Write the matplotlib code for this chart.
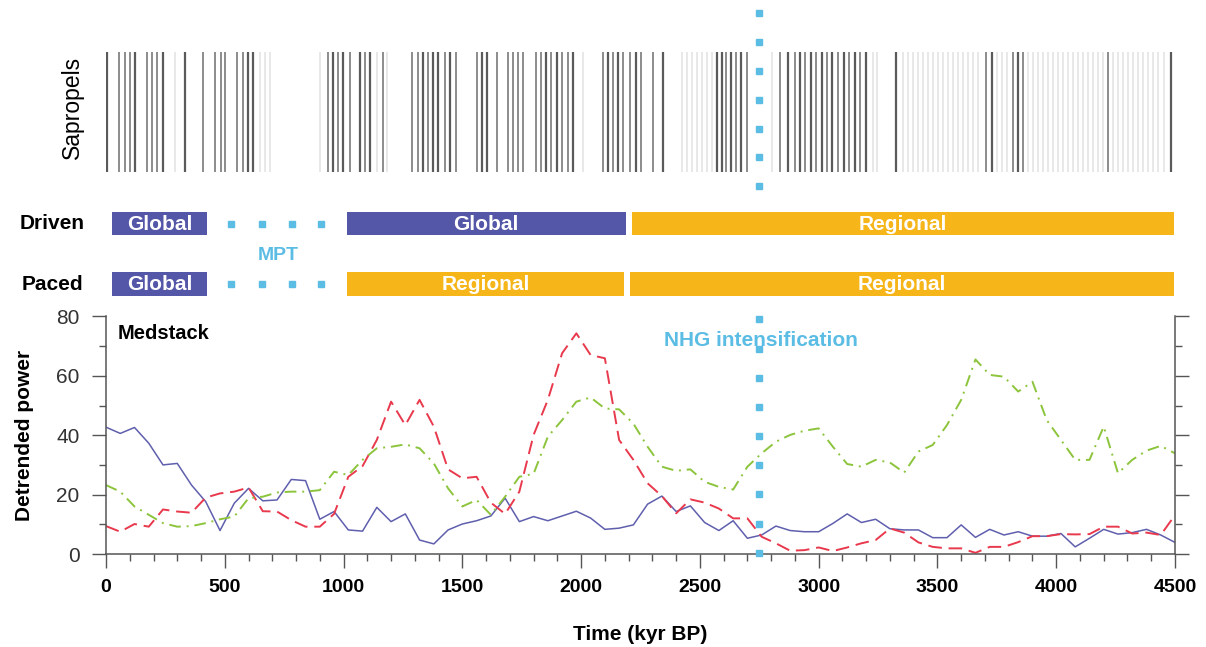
import numpy as np
import matplotlib
matplotlib.use("Agg")
import matplotlib.pyplot as plt
from matplotlib.ticker import MultipleLocator

plt.rcParams["font.family"] = ["Liberation Sans", "DejaVu Sans"]

# ---------------- data ----------------
AGE = np.arange(0, 4501, 60)  # kyr BP, 60 kyr grid

BLUE = [42.7, 40.6, 42.6, 37.3, 30.0, 30.5, 23.2, 17.6, 7.9, 17.1,
        22.1, 17.9, 18.2, 25.1, 24.7, 11.7, 14.3, 8.1, 7.7, 15.7,
        10.9, 13.5, 4.7, 3.4, 8.1, 10.1, 11.2, 12.8, 18.8, 10.9,
        12.6, 11.2, 12.8, 14.4, 12.1, 8.3, 8.7, 9.8, 16.8, 19.5,
        14.3, 16.2, 10.6, 7.9, 11.2, 5.3, 6.4, 9.4, 7.9, 7.5,
        7.5, 10.3, 13.5, 10.6, 11.7, 8.5, 8.1, 8.1, 5.5, 5.5,
        9.8, 5.6, 8.3, 6.4, 7.5, 6.0, 6.0, 6.9, 2.4, 5.3,
        8.3, 6.7, 7.2, 8.3, 6.4, 3.9]

RED = [9.4, 7.5, 10.1, 9.2, 15.0, 14.3, 13.9, 19.0, 20.4, 21.0,
       22.4, 14.4, 14.3, 11.4, 9.2, 9.2, 13.5, 26.0, 29.6, 38.4,
       51.3, 43.4, 51.9, 42.9, 28.5, 25.5, 26.0, 17.3, 13.5, 21.0,
       40.1, 51.9, 67.6, 74.3, 67.0, 65.9, 38.4, 31.7, 23.8, 19.5,
       13.7, 18.4, 17.3, 15.3, 12.0, 12.0, 5.8, 3.6, 1.1, 1.3,
       2.2, 1.0, 2.2, 3.6, 4.7, 8.6, 7.2, 3.9, 2.4, 1.9,
       1.9, 0.4, 2.4, 2.4, 4.0, 6.0, 6.0, 6.7, 6.6, 6.7,
       9.2, 9.2, 6.9, 7.2, 6.4, 13.1]

GREEN = [23.2, 21.0, 16.0, 13.2, 10.4, 9.2, 9.4, 10.4, 11.7, 12.6,
         18.8, 19.3, 20.7, 21.0, 21.0, 21.5, 27.7, 26.6, 31.7, 35.6,
         36.1, 36.9, 35.6, 30.5, 22.1, 16.0, 18.2, 13.2, 19.3, 26.0,
         27.0, 39.5, 45.1, 51.3, 52.7, 49.0, 48.7, 43.9, 36.1, 29.4,
         28.0, 28.5, 24.3, 22.6, 21.7, 29.4, 33.9, 37.8, 40.1, 41.5,
         42.3, 36.1, 30.3, 29.4, 31.7, 30.8, 27.4, 34.5, 36.7, 43.4,
         51.9, 65.5, 60.3, 59.7, 54.7, 58.0, 45.1, 38.4, 31.7, 31.7,
         42.9, 27.2, 31.7, 34.8, 36.4, 33.9]

XTICKS = [0, 500, 1000, 1500, 2000, 2500, 3000, 3500, 4000, 4500]
YTICKS = [0, 20, 40, 60, 80]

# sapropel ages (kyr), by shade of the line
SAP_DARK = [3, 122, 238, 332, 599, 617, 957, 999, 1069, 1111, 1336, 1378,
            1399, 1448, 1581, 1602, 1852, 1897, 1967, 2114, 2156, 2231,
            2343, 2570, 2591, 2633, 2675, 2872, 2921, 2966, 3012, 3058,
            3106, 3152, 3199, 3325, 3728, 3840, 4485]
SAP_MID = [55, 80, 101, 171, 192, 216, 407, 459, 483, 501, 553, 575, 933,
           978, 1027, 1090, 1165, 1287, 1315, 1357, 1427, 1472, 1563, 1644,
           1693, 1714, 1735, 1756, 1810, 1830, 1873, 1918, 1946, 2093,
           2135, 2177, 2205, 2252, 2304, 2612, 2654, 2697, 2837, 2900,
           2942, 2988, 3036, 3082, 3128, 3176, 3706, 3819, 3861, 4219]
SAP_LIGHT = [290, 648, 669, 690, 901, 1139, 1184, 2006, 2423, 2444, 2465,
             2486, 2507, 2528, 2549, 2802, 3227, 3246, 3356, 3378, 3397,
             3420, 3441, 3460, 3483, 3503, 3525, 3544, 3567, 3586, 3609,
             3629, 3651, 3671, 3749, 3770, 3791, 3882, 3904, 3923, 3946,
             3966, 3988, 4007, 4030, 4050, 4072, 4091, 4114, 4134, 4156,
             4176, 4198, 4240, 4262, 4281, 4304, 4324, 4346, 4366, 4388,
             4407, 4430, 4452]

DRIVEN_START = [25, 1014, 2215]
DRIVEN_END = [425, 2187, 4495]
DRIVEN_REGIME = ["Global", "Global", "Regional"]
PACED_START = [25, 1014, 2205]
PACED_END = [425, 2180, 4495]
PACED_REGIME = ["Global", "Regional", "Regional"]
MPT_DOTS = [528, 657, 781, 903]
NHG_AGE = 2750

# ---------------- style ----------------
C_BLUE = "#5F5FAE"
C_RED = "#E8394D"
C_GREEN = "#8CC43C"
C_GLOBAL = "#5457A8"
C_REGIONAL = "#F6B519"
C_CYAN = "#5BBCE4"
SHADES = {"dark": "#5a5a5a", "mid": "#8c8c8c", "light": "#e2e2e2"}

W, H = 1206, 647
fig = plt.figure(figsize=(W / 100, H / 100), dpi=100)


def rect(l, t, r, b):
    return [l / W, 1 - b / H, (r - l) / W, (b - t) / H]


def ftext(x, y, s, **kw):
    fig.text(x / W, 1 - y / H, s, **kw)


# ---------------- main panel ----------------
ax = fig.add_axes(rect(106, 316.4, 1175, 554))
ax.plot(AGE, BLUE, color=C_BLUE, lw=1.1)
ax.plot(AGE, RED, color=C_RED, lw=1.4, linestyle=(0, (7, 3.5)))
ax.plot(AGE, GREEN, color=C_GREEN, lw=1.4, linestyle=(0, (6, 3, 1, 3)))
ax.set_xlim(0, 4500)
ax.set_ylim(0, 80)

ax.spines["top"].set_visible(False)
for s in ("left", "right", "bottom"):
    ax.spines[s].set_color("#555555")
    ax.spines[s].set_linewidth(1.1)

ax.set_xticks(XTICKS)
ax.set_xticklabels([str(t) for t in XTICKS], fontweight="bold", fontsize=14)
ax.xaxis.set_minor_locator(MultipleLocator(100))
ax.set_yticks(YTICKS)
ax.set_yticklabels([str(t) for t in YTICKS], fontsize=15, color="#333333")
ax.yaxis.set_minor_locator(MultipleLocator(10))
ax.tick_params(which="both", color="#555555", width=1.0, direction="out")
ax.tick_params(which="major", length=10)
ax.tick_params(which="minor", length=5)
ax.tick_params(axis="x", pad=8)
ax.tick_params(axis="y", which="both", right=True, labelright=False, pad=9)

ax.set_xlabel("Time (kyr BP)", fontsize=15, fontweight="bold", labelpad=21)
ax.set_ylabel("Detrended power", fontsize=15, fontweight="bold", labelpad=16)

ax.text(0.011, 0.93, "Medstack", transform=ax.transAxes, fontsize=14.5,
        fontweight="bold", va="center", ha="left")

# ---------------- sapropels ----------------
ax_s = fig.add_axes(rect(106, 52, 1175, 172))
ax_s.vlines(SAP_LIGHT, 0, 1, color=SHADES["light"], lw=1.1)
ax_s.vlines(SAP_MID, 0, 1, color=SHADES["mid"], lw=1.4)
ax_s.vlines(SAP_DARK, 0, 1, color=SHADES["dark"], lw=1.6)
ax_s.set_xlim(0, 4500)
ax_s.set_ylim(0, 1)
ax_s.axis("off")
ftext(72, 107, "Sapropels", rotation=90, fontsize=16.5, ha="center", va="center")

# ---------------- regime bars + overlay ----------------
ov = fig.add_axes(rect(106, 0, 1175, H), zorder=5)
ov.set_xlim(0, 4500)
ov.set_ylim(H, 0)
ov.axis("off")
ov.patch.set_alpha(0)

for y, starts, ends, regimes in [(223.5, DRIVEN_START, DRIVEN_END, DRIVEN_REGIME),
                                 (284, PACED_START, PACED_END, PACED_REGIME)]:
    for s, e, r in zip(starts, ends, regimes):
        col = C_GLOBAL if r == "Global" else C_REGIONAL
        ov.barh(y, e - s, left=s, height=23.5, color=col, zorder=3)
        ov.text((s + e) / 2, y + 1, r, color="white", fontsize=15,
                fontweight="bold", ha="center", va="center", zorder=4)
    ov.plot(MPT_DOTS, [y] * len(MPT_DOTS), ls="none", marker="s",
            ms=3.8, color=C_CYAN, zorder=2)

ov.text(724, 255, "MPT", color=C_CYAN, fontsize=14, fontweight="bold",
        ha="center", va="center")

ftext(52.5, 223.5, "Driven", fontsize=15, fontweight="bold", ha="center", va="center")
ftext(52.5, 284, "Paced", fontsize=15, fontweight="bold", ha="center", va="center")

# NHG intensification dotted marker
top_dots = np.arange(13.3, 190, 28.8)
low_dots = np.arange(319.3, 556, 29.2)
ov.plot([NHG_AGE] * len(top_dots), top_dots, ls="none", marker="s", ms=3.8,
        color=C_CYAN, zorder=6, clip_on=False)
ov.plot([NHG_AGE] * len(low_dots), low_dots, ls="none", marker="s", ms=3.8,
        color=C_CYAN, zorder=6, clip_on=False)
ov.text(NHG_AGE + 7, 340, "NHG intensification", color=C_CYAN, fontsize=15,
        fontweight="bold", ha="center", va="center", zorder=7)

fig.savefig("out.png", dpi=100, facecolor="white")
